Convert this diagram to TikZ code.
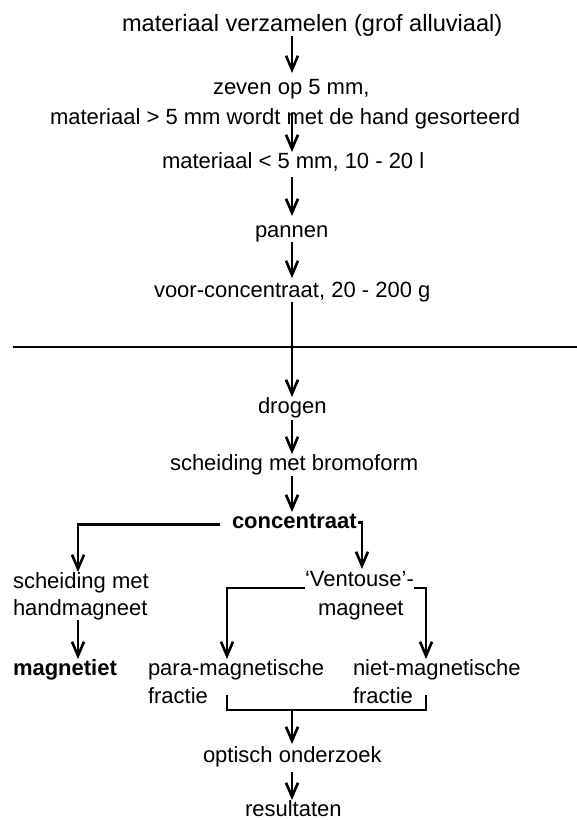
\documentclass[tikz,border=0pt]{standalone}
\usepackage{fontspec}
\setmainfont{Liberation Sans}
\usetikzlibrary{arrows.meta,calc}

\tikzset{
  lbl/.style={anchor=base west, inner sep=0pt, outer sep=0pt,
    font=\fontsize{22}{26}\selectfont, text height=16pt, text depth=5pt},
  big lbl/.style={lbl, font=\fontsize{23.6}{28}\selectfont},
  bold lbl/.style={lbl, font=\fontsize{22}{26}\selectfont\bfseries},
  flow/.style={line width=2.2pt},
  arr/.style={flow, -{Straight Barb[length=14pt,width=12pt,line width=2.6pt]}},
}

\begin{document}
\begin{tikzpicture}[x=1pt, y=-1pt]
\useasboundingbox (0,0) rectangle (577,820);

% main column axis and branch axes
\coordinate (axis) at (292,0);
\coordinate (pl)   at (227,0);
\coordinate (pr)   at (426,0);
\coordinate (lax)  at (78,0);
\coordinate (rax)  at (362,0);

% field stage
\node[big lbl] (verz) at (122,31) {materiaal verzamelen (grof alluviaal)};
\node[lbl] (zeef)  at (213,94)  {zeven op 5 mm,};
\node[lbl] (hand)  at (50,124)  {materiaal > 5 mm wordt met de hand gesorteerd};
\node[lbl] (fijn)  at (162,168) {materiaal < 5 mm, 10 - 20 l};
\node[lbl] (pan)   at (255,237) {pannen};
\node[lbl] (voor)  at (154,297) {voor-concentraat, 20 - 200 g};

% laboratory stage
\node[lbl] (droog) at (258,413) {drogen};
\node[lbl] (brom)  at (170,470) {scheiding met bromoform};
\node[bold lbl] (conc) at (232,528) {concentraat};
\node[lbl] (hm1)   at (13,588)  {scheiding met};
\node[lbl] (hm2)   at (13,615)  {handmagneet};
\node[lbl] (ven1)  at (305,586) {‘Ventouse’-};
\node[lbl] (ven2)  at (318,615) {magneet};
\node[bold lbl] (magn) at (13,675) {magnetiet};
\node[lbl] (para1) at (148,675) {para-magnetische};
\node[lbl] (para2) at (148,703) {fractie};
\node[lbl] (niet1) at (353,675) {niet-magnetische};
\node[lbl] (niet2) at (353,703) {fractie};
\node[lbl] (opt)   at (203,762) {optisch onderzoek};
\node[lbl, text depth=0pt] (res) at (245,816) {resultaten};

% separation between field and laboratory work
\draw[line width=1.5pt] (13,347) -- (577,347);

% main column
\draw[arr] (verz.south -| axis) -- ([yshift=5pt]zeef.north -| axis);
\draw[arr] ([yshift=-5pt]hand.north -| axis) -- (fijn.north -| axis);
\draw[arr] ([yshift=-4pt]fijn.south -| axis) -- ([yshift=5pt]pan.north -| axis);
\draw[arr] (pan.south -| axis) -- ([yshift=3pt]voor.north -| axis);
\draw[arr] (voor.south -| axis) -- (droog.north -| axis);
\draw[arr] ([yshift=-2pt]droog.south -| axis) -- (brom.north -| axis);
\draw[arr] ([yshift=-1pt]brom.south -| axis) -- (conc.north -| axis);

% branches from the concentrate
\draw[arr] ([xshift=-12pt,yshift=-2pt]conc.west) -| (hm1.north -| lax);
\draw[arr] ([xshift=1pt]conc.east) -| ([yshift=1pt]ven1.north -| rax);
\draw[arr] (hm2.south -| lax) -- (magn.north -| lax);

% separation with the Ventouse magnet
\draw[arr] ([yshift=-2pt]ven1.base west) -| (para1.north -| pl);
\draw[arr] ([yshift=-2pt]ven1.base east) -| (niet1.north -| pr);

% both fractions go to optical study
\coordinate (jl) at (227,695);
\coordinate (jr) at (426,695);
\coordinate (join) at (292,710);
\draw[flow] (jl) |- (join -| jr) -- (jr);
\draw[arr] (join) -- ([yshift=2pt]opt.north -| axis);
\draw[arr] ([yshift=-5pt]opt.south -| axis) -- (res.north -| axis);
\end{tikzpicture}
\end{document}
